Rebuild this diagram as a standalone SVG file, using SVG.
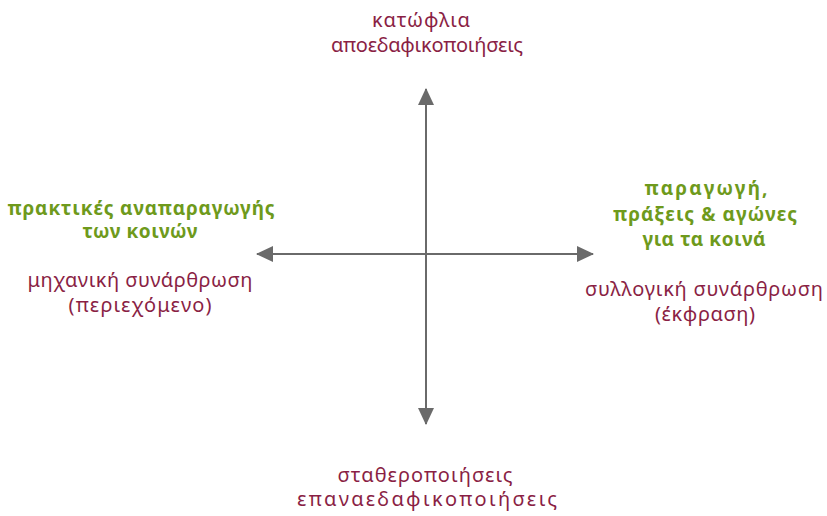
<svg xmlns="http://www.w3.org/2000/svg" width="827" height="516" viewBox="0 0 827 516">
<defs>
<style>
.m{fill:#8a1f45;font-family:"Noto Sans","DejaVu Sans",sans-serif;font-size:20px;text-anchor:middle}
.g{fill:#6e9a1c;font-family:"Noto Sans","DejaVu Sans",sans-serif;font-size:19px;font-weight:bold;text-anchor:middle}
.ax{stroke:#6a6a6a;stroke-width:2;fill:none}
</style>
<marker id="ah" viewBox="0 0 17 16" refX="16" refY="8" markerWidth="17" markerHeight="16" markerUnits="userSpaceOnUse" orient="auto">
<path d="M0,0 L17,8 L0,16 Z" fill="#6a6a6a"/>
</marker>
</defs>
<rect width="827" height="516" fill="#ffffff"/>
<g id="connectors">
<path class="ax" d="M426,254 L426,89" marker-end="url(#ah)"/>
<path class="ax" d="M426,254 L426,424" marker-end="url(#ah)"/>
<path class="ax" d="M426,254 L257,254" marker-end="url(#ah)"/>
<path class="ax" d="M426,254 L593,254" marker-end="url(#ah)"/>
</g>
<g id="top"><text class="m" x="421" y="27" textLength="98" lengthAdjust="spacing">κατώφλια</text><text class="m" x="427" y="52" textLength="192" lengthAdjust="spacing">αποεδαφικοποιήσεις</text></g>
<g id="left"><text class="g" x="141" y="215" textLength="267" lengthAdjust="spacing">πρακτικές αναπαραγωγής</text><text class="g" x="140" y="238" textLength="115" lengthAdjust="spacing">των κοινών</text>
<text class="m" x="140" y="287" textLength="225" lengthAdjust="spacing">μηχανική συνάρθρωση</text><text class="m" x="140" y="312" textLength="143" lengthAdjust="spacing">(περιεχόμενο)</text></g>
<g id="right"><text class="g" x="706" y="195" textLength="123" lengthAdjust="spacing">παραγωγή,</text><text class="g" x="705" y="221" textLength="184" lengthAdjust="spacing">πράξεις &amp; αγώνες</text><text class="g" x="704" y="246" textLength="123" lengthAdjust="spacing">για τα κοινά</text>
<text class="m" x="704" y="296" textLength="238" lengthAdjust="spacing">συλλογική συνάρθρωση</text><text class="m" x="705" y="321" textLength="100" lengthAdjust="spacing">(έκφραση)</text></g>
<g id="bottom"><text class="m" x="425" y="482" textLength="175" lengthAdjust="spacing">σταθεροποιήσεις</text><text class="m" x="427" y="506" textLength="260" lengthAdjust="spacing">επαναεδαφικοποιήσεις</text></g>
</svg>
